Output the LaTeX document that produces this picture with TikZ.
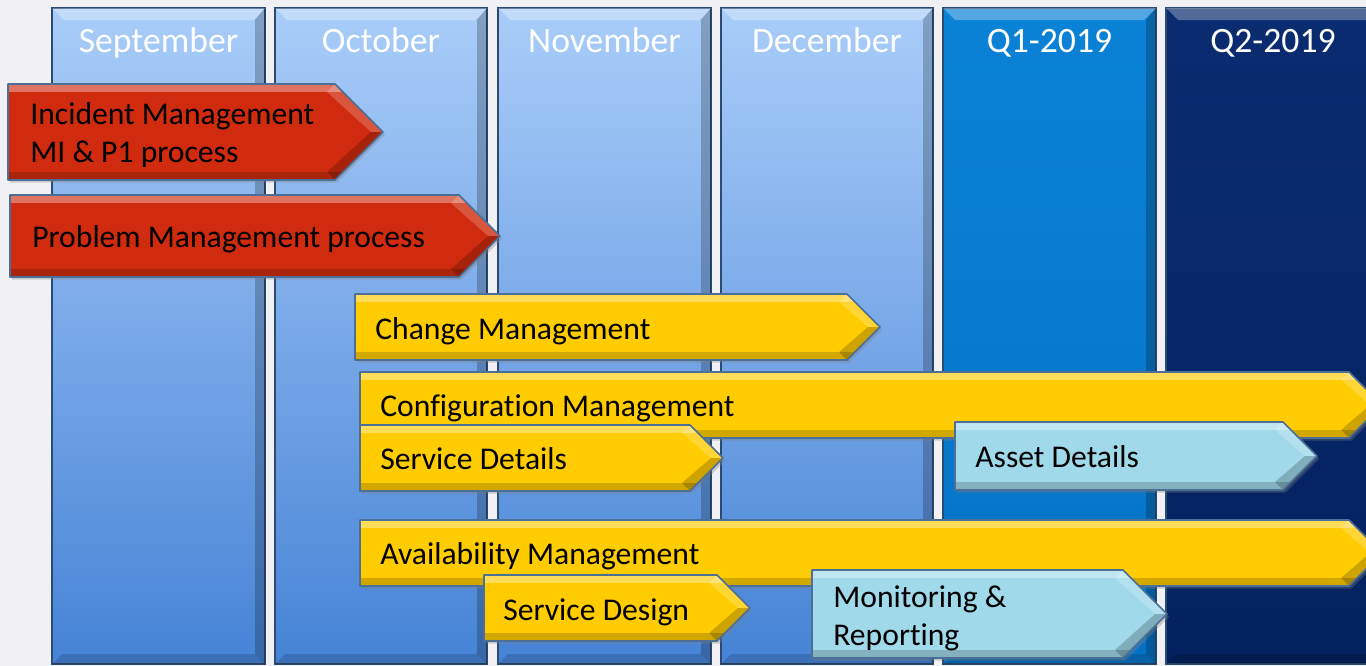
\documentclass[tikz,border=0pt]{standalone}
\usepackage{fontspec}
\setmainfont{Carlito}[Ligatures=NoCommon]
\usetikzlibrary{shadows}

\definecolor{pagegray}{HTML}{F1F1F5}
\definecolor{monthtop}{HTML}{A9CDF9}
\definecolor{monthbot}{HTML}{4683D6}
\definecolor{qonetop}{HTML}{0A82D6}
\definecolor{qonebot}{HTML}{0473C6}
\definecolor{qtwotop}{HTML}{0A2C70}
\definecolor{qtwobot}{HTML}{04215F}
\definecolor{coledge}{HTML}{2B4B73}
\definecolor{baredge}{HTML}{4C6F98}
\definecolor{redmid}{HTML}{D02B0E}
\definecolor{yelmid}{HTML}{FFCC00}
\definecolor{skymid}{HTML}{A0D9EA}

% pentagon bar: left, top, bottom, tip
\newcommand\barpath[4]{(#1,#2) -- ({#4-(#3-#2)/2},#2) -- (#4,{(#2+#3)/2})
    -- ({#4-(#3-#2)/2},#3) -- (#1,#3) -- cycle}
\newcommand\phasebar[5]{%
  \fill[#1] \barpath{#2}{#3}{#4}{#5};
  \begin{scope}
    \clip \barpath{#2}{#3}{#4}{#5};
    \fill[white,opacity=0.35] (#2,#3) rectangle (#5,#3+8);
    \fill[black,opacity=0.18] (#2,#4-8) rectangle (#5,#4);
    \fill[white,opacity=0.2] ({#5-(#4-#3)/2},#3) -- (#5,{(#3+#4)/2})
      -- (#5-12,{(#3+#4)/2}) -- ({#5-(#4-#3)/2-8},#3+8) -- cycle;
    \fill[black,opacity=0.2] ({#5-(#4-#3)/2},#4) -- (#5,{(#3+#4)/2})
      -- (#5-12,{(#3+#4)/2}) -- ({#5-(#4-#3)/2-8},#4-8) -- cycle;
  \end{scope}
  \draw[baredge,line width=0.9,line join=round] \barpath{#2}{#3}{#4}{#5};}

\begin{document}
\begin{tikzpicture}[x=0.02cm,y=-0.02cm,
    month/.style={top color=monthtop,bottom color=monthbot,draw=coledge,line width=0.6},
    qone/.style={top color=qonetop,bottom color=qonebot,draw=coledge,line width=0.6},
    qtwo/.style={top color=qtwotop,bottom color=qtwobot,draw=coledge,line width=0.6},
    monthlbl/.style={text=white,font=\fontsize{20.3}{24}\selectfont,anchor=base,inner sep=0},
    bar/.style={drop shadow={shadow xshift=1.2pt,shadow yshift=-1.5pt,opacity=0.35}},
    redbar/.style={bar,fill=redmid},
    yelbar/.style={bar,fill=yelmid},
    skybar/.style={bar,fill=skymid},
    tag/.style={font=\fontsize{18}{21.5}\selectfont,anchor=base west,align=left,inner sep=0}
    ]
    \useasboundingbox[fill=pagegray] (0,0) rectangle (1366,666);

    % month columns
    \foreach \x/\w/\sty/\name/\lbl in {52/213/month/sep/September,275/212/month/oct/October,
        498/213/month/nov/November,721/212/month/dec/December,
        943/213/qone/qone/Q1-2019,1166/214/qtwo/qtwo/Q2-2019} {
        \draw[\sty] (\x,8) rectangle (\x+\w,664);
        \fill[white,opacity=0.3] (\x,8) -- (\x+\w,8) -- (\x+\w-12,20) -- (\x+12,20) -- cycle;
        \fill[black,opacity=0.22] (\x+\w,8) -- (\x+\w,664) -- (\x+\w-10,654) -- (\x+\w-10,20) -- cycle;
        \fill[black,opacity=0.15] (\x,664) -- (\x+\w,664) -- (\x+\w-10,654) -- (\x+10,654) -- cycle;
        \node[monthlbl] (\name) at (\x+\w/2,52) {\lbl};
    }

    % phases
    \phasebar{redbar}{8}{84}{180}{383}
    \node[tag] (incident) at (30,162) {Incident Management\\MI \& P1 process};
    \phasebar{redbar}{10}{195}{277}{500}
    \node[tag] (problem) at (32,247) {Problem Management process};
    \phasebar{yelbar}{355}{294}{360}{880}
    \node[tag] (change) at (375,339) {Change Management};
    \phasebar{yelbar}{360}{372}{438}{1382}
    \node[tag] (config) at (380,416) {Configuration Management};
    \phasebar{yelbar}{360}{425}{491}{723}
    \node[tag] (svcdetails) at (380,469) {Service Details};
    \phasebar{skybar}{955}{422}{490}{1317}
    \node[tag] (asset) at (975,467) {Asset Details};
    \phasebar{yelbar}{360}{520}{586}{1382}
    \node[tag] (avail) at (380,564) {Availability Management};
    \phasebar{yelbar}{484}{575}{641}{750}
    \node[tag] (svcdesign) at (503,620) {Service Design};
    \phasebar{skybar}{812}{570}{658}{1167}
    \node[tag] (monitor) at (833,645) {Monitoring \&\\Reporting};
\end{tikzpicture}
\end{document}
